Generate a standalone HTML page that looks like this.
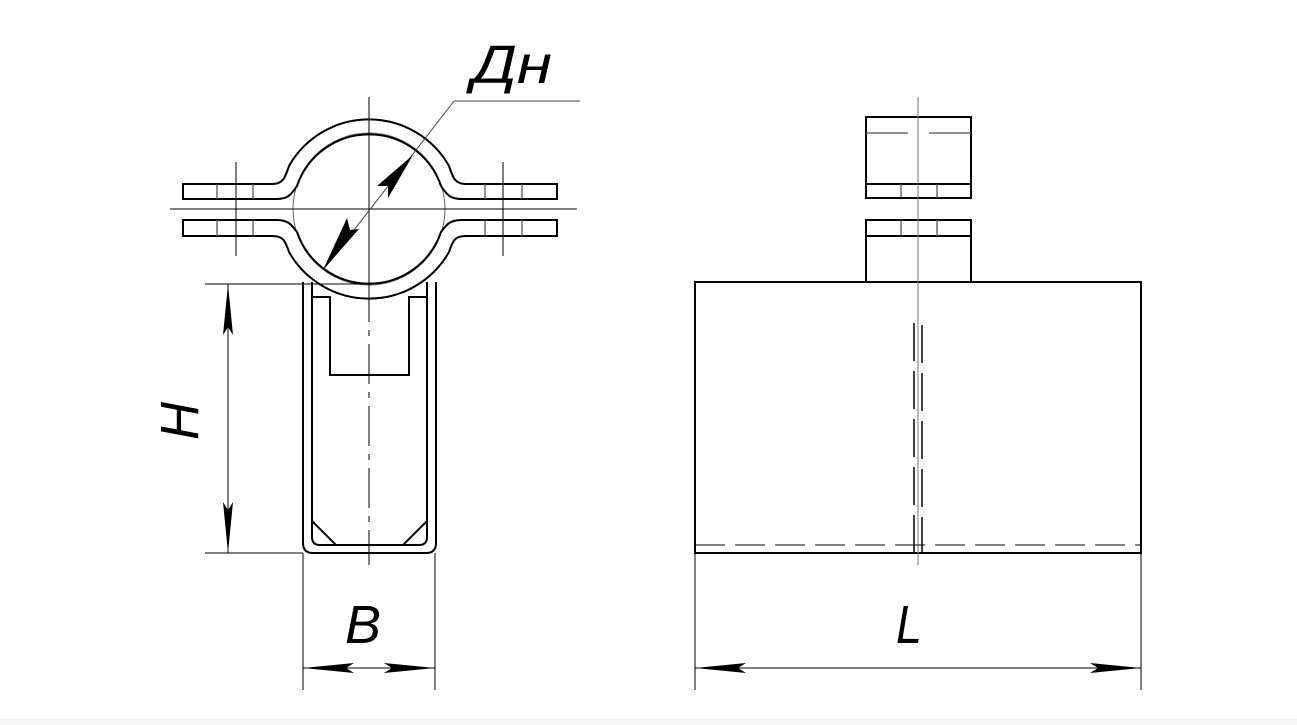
<!DOCTYPE html>
<html><head><meta charset="utf-8"><style>
html,body{margin:0;padding:0;background:#fff;width:1297px;height:725px;overflow:hidden}
svg{display:block}
.t{font-family:"Liberation Sans",sans-serif;font-style:italic;font-size:54px;fill:#000}
</style></head><body>
<svg width="1297" height="725" viewBox="0 0 1297 725">
<rect x="0" y="718" width="1297" height="7" fill="#f7f7f7"/>
<circle cx="369" cy="209" r="76" fill="none" stroke="#666" stroke-width="1"/>
<g fill="none" stroke="#000" stroke-width="2">
<path d="M183,184 H272 C283,184 285,178 289,166 A92,92 0 0 1 449,166 C453,178 455,184 466,184 H557 V199 H462 C450,199 447,195 441,186 A76,76 0 0 0 297,186 C291,195 288,199 276,199 H183 Z"/>
<path d="M183,220 H276 C288,220 291,224 297,232 A76,76 0 0 0 441,232 C447,224 450,220 462,220 H557 V236 H466 C455,236 453,240 449,252 A92,92 0 0 1 289,252 C285,240 283,236 272,236 H183 Z"/>
<path d="M303,282 V543 Q303,553 313,553 H426 Q436,553 436,543 V282"/>
<path d="M312,282 V537 Q312,545 320,545 H419 Q427,545 427,537 V282"/>
<path d="M312,297 H330 V375 H409 V297 H427"/>
<path d="M312,521 L336,545 M427,521 L403,545"/>
<rect x="695" y="282" width="446" height="271"/>
<rect x="866" y="117" width="105" height="81"/>
<line x1="866" y1="184" x2="971" y2="184"/>
<path d="M866,282 V220 H971 V282"/>
<line x1="866" y1="236" x2="971" y2="236"/>
<path d="M914,553 V323 H922 V553" stroke-width="1.5" stroke-dasharray="38,10"/>
</g>
<g stroke="#555" stroke-width="1.3" fill="none">
<line x1="217" y1="184" x2="217" y2="199"/><line x1="253" y1="184" x2="253" y2="199"/>
<line x1="485" y1="184" x2="485" y2="199"/><line x1="522" y1="184" x2="522" y2="199"/>
<line x1="217" y1="220" x2="217" y2="236"/><line x1="253" y1="220" x2="253" y2="236"/>
<line x1="485" y1="220" x2="485" y2="236"/><line x1="522" y1="220" x2="522" y2="236"/>
<line x1="901" y1="184" x2="901" y2="198"/><line x1="937" y1="184" x2="937" y2="198"/>
<line x1="901" y1="220" x2="901" y2="236"/><line x1="937" y1="220" x2="937" y2="236"/>
<line x1="866" y1="133" x2="908" y2="133"/><line x1="929" y1="133" x2="971" y2="133"/>
</g>
<g stroke="#000" stroke-width="1">
<line x1="170" y1="209" x2="577" y2="209"/>
<line x1="369" y1="97" x2="369" y2="282" />
<line x1="369" y1="282" x2="369" y2="565" stroke-dasharray="40,8,6,8"/>
<line x1="236" y1="162" x2="236" y2="256"/>
<line x1="503" y1="162" x2="503" y2="256"/>
<line x1="918" y1="97" x2="918" y2="565" stroke="#777"/>
<line x1="205" y1="284" x2="369" y2="284"/>
<line x1="205" y1="553" x2="303" y2="553"/>
<line x1="228" y1="284" x2="228" y2="553"/>
<line x1="303" y1="553" x2="303" y2="690"/><line x1="435" y1="553" x2="435" y2="690"/>
<line x1="303" y1="668" x2="435" y2="668"/>
<line x1="695" y1="553" x2="695" y2="690"/><line x1="1141" y1="553" x2="1141" y2="690"/>
<line x1="695" y1="668" x2="1141" y2="668"/>
<line x1="695" y1="545" x2="1141" y2="545" stroke-dasharray="30,10"/>
<line x1="323" y1="270" x2="454" y2="101" stroke="#444"/>
<line x1="454" y1="101" x2="580" y2="101" stroke="#444"/>
</g>
<g fill="#000">
<polygon points="228,284 223,335 228,327 233,335"/>
<polygon points="228,553 223,502 228,510 233,502"/>
<polygon points="303,668 354,663 346,668 354,673"/>
<polygon points="435,668 384,663 392,668 384,673"/>
<polygon points="695,668 746,663 738,668 746,673"/>
<polygon points="1141,668 1090,663 1098,668 1090,673"/>
<polygon points="413,155 377,186 388,186 388,198"/>
<polygon points="323,270 359,229 350,230 347,218"/>
</g>
<text class="t" x="472" y="83" textLength="80" lengthAdjust="spacingAndGlyphs">Дн</text>
<text class="t" x="345" y="643" textLength="36" lengthAdjust="spacingAndGlyphs">B</text>
<text class="t" x="896" y="643" textLength="26" lengthAdjust="spacingAndGlyphs">L</text>
<text class="t" transform="translate(198,440) rotate(-90)" textLength="38" lengthAdjust="spacingAndGlyphs">H</text>
</svg>
</body></html>
